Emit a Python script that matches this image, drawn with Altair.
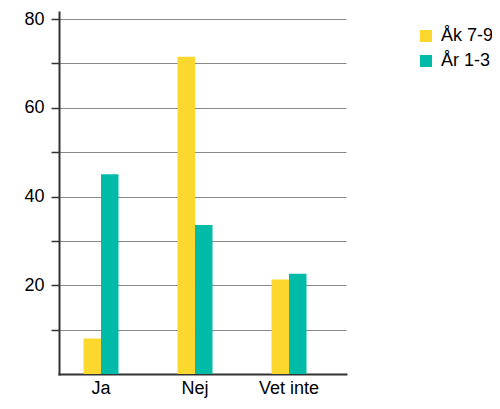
import altair as alt
import pandas as pd

categories = ["Ja", "Nej", "Vet inte"]
series = ["Åk 7-9", "År 1-3"]
ak79 = [8, 71.5, 21.3]
ar13 = [45, 33.6, 22.6]
colors = ["#FCD72D", "#00BBA8"]

rows = []
for c, a, b in zip(categories, ak79, ar13):
    rows.append({"cat": c, "grp": series[0], "val": a})
    rows.append({"cat": c, "grp": series[1], "val": b})
df = pd.DataFrame(rows)

font = "Liberation Sans"
fs = 18

chart = alt.Chart(df).mark_bar().encode(
    x=alt.X("cat:N", sort=categories, title=None,
            scale=alt.Scale(paddingInner=0.628, paddingOuter=0.3405, align=0.383),
            axis=alt.Axis(labelAngle=0, ticks=False, labelPadding=5, labelFontSize=fs,
                          labelFont=font, labelColor="#000", domainColor="#333",
                          domainWidth=2, grid=False)),
    xOffset=alt.XOffset("grp:N", sort=series,
                        scale=alt.Scale(paddingInner=0, paddingOuter=0)),
    y=alt.Y("val:Q", title=None,
            scale=alt.Scale(domain=[0, 81.6], nice=False, zero=True),
            axis=alt.Axis(values=[10, 20, 30, 40, 50, 60, 70, 80],
                          labelExpr="datum.value % 20 == 0 ? datum.label : ''",
                          tickSize=8, tickColor="#333", tickWidth=1.5,
                          labelPadding=7, labelFontSize=fs, labelFont=font,
                          labelColor="#000", domainColor="#333", domainWidth=2,
                          gridColor="#888", gridWidth=1.2)),
    color=alt.Color("grp:N", sort=series,
                    scale=alt.Scale(domain=series, range=colors),
                    legend=alt.Legend(title=None, orient="none", legendX=358, legendY=15,
                                      symbolType="square", symbolSize=144,
                                      symbolStrokeWidth=0, labelFontSize=fs,
                                      labelFont=font, labelColor="#000",
                                      rowPadding=7, labelOffset=6)),
).properties(
    width=287, height=362,
    padding={"left": 51, "top": 4, "right": 146, "bottom": 27},
    autosize=alt.AutoSizeParams(type="none"),
).configure_view(stroke=None).configure_axis(domainCap="square")

chart.save("out.html", embed_options={"renderer": "svg", "actions": False})
